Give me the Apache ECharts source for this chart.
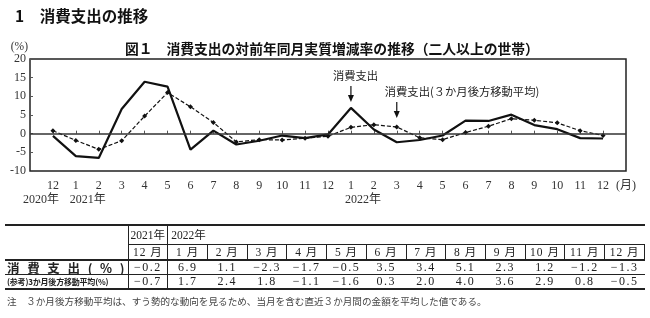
<!DOCTYPE html>
<html><head><meta charset="utf-8">
<script src="https://cdn.jsdelivr.net/npm/echarts@6/dist/echarts.min.js"></script>
<style>
html,body{margin:0;padding:0;background:#fff;}
#c{position:absolute;left:0;top:0;width:650px;height:318px;}
#tbl{position:absolute;left:5px;top:224px;width:640px;border-collapse:collapse;table-layout:fixed;
  font-family:'Liberation Serif','Noto Sans CJK JP',serif;color:#222;}
#tbl td{padding:0;overflow:hidden;white-space:nowrap;line-height:13px;}
#tbl tr.r1 td{height:18px;border-top:2px solid #222;font-size:11.5px;}
#tbl tr.r2 td{height:14px;font-size:11.5px;}
#tbl tr.r3 td{height:13px;border-top:2px solid #222;border-bottom:1.5px solid #222;font-size:12px;}
#tbl tr.r4 td{height:13px;border-bottom:2px solid #222;font-size:12px;}
#tbl td.lab0{border-bottom:2px solid #222;}
#tbl td.y21{border-left:1.5px solid #222;border-right:1.5px solid #222;border-bottom:1.5px solid #222;text-align:center;}
#tbl td.y22{border-bottom:1.5px solid #222;text-align:left;padding-left:3px;}
#tbl td.m{border:1.5px solid #222;border-bottom:2px solid #222;text-align:center;letter-spacing:1px;}
#tbl td.v{text-align:center;letter-spacing:1.5px;}
#tbl td.vl{border-right:1.5px solid #222;}
#tbl td.lab{border-right:1.5px solid #222;padding:0 3px 0 2px;}
.sp{display:flex;justify-content:space-between;font-weight:bold;font-family:'Noto Sans CJK JP',sans-serif;font-size:12.5px;line-height:13px;}
.sm{font-family:'Noto Sans CJK JP',sans-serif;font-size:8px;font-weight:bold;line-height:13px;letter-spacing:-0.2px;}
#note{position:absolute;left:7px;top:294px;font-family:'Noto Sans CJK JP',sans-serif;font-size:9.6px;color:#444;white-space:nowrap;}
</style></head>
<body>
<div id="c"></div>
<table id="tbl"></table>
<div id="note">注　３か月後方移動平均は、すう勢的な動向を見るため、当月を含む直近３か月間の金額を平均した値である。</div>
<script>
// ---- data ----
const months = ['12','1','2','3','4','5','6','7','8','9','10','11','12','1','2','3','4','5','6','7','8','9','10','11','12'];
const yearLabels = ['2020年','2021年','','','','','','','','','','','','2022年','','','','','','','','','','',''];
const spending = [-0.6,-6.0,-6.5,6.6,13.9,12.6,-4.3,0.8,-2.9,-1.9,-0.5,-1.2,-0.2, 6.9,1.1,-2.3,-1.7,-0.5,3.5,3.4,5.1,2.3,1.2,-1.2,-1.3];
const movingAvg = [0.8,-1.8,-4.2,-1.9,4.7,11.0,7.2,3.0,-2.2,-1.6,-1.7,-1.2,-0.7, 1.7,2.4,1.8,-1.1,-1.6,0.3,2.0,4.0,3.6,2.9,0.8,-0.5];
const yTicks = [-10,-5,0,5,10,15,20];
const tableStart = 12; // 2021年12月

// ---- chart ----
const cats = [''].concat(months).concat(['(月)']);
const pad = a => ['-'].concat(a).concat(['-']);
const chart = echarts.init(document.getElementById('c'), null, {renderer:'canvas'});
const serif = "'Liberation Serif','Noto Sans CJK JP',serif";
chart.setOption({
  animation:false,
  title:[
    {text:'1　消費支出の推移', left:10, top:3, textStyle:{fontFamily:"'Noto Sans CJK JP',sans-serif", fontSize:15.5, fontWeight:'bold', color:'#111'}},
    {text:'図１　消費支出の対前年同月実質増減率の推移（二人以上の世帯）', left:120, top:37,
     textStyle:{fontFamily:"'Noto Sans CJK JP',sans-serif", fontSize:13.8, fontWeight:'bold', color:'#111'}}
  ],
  grid:{left:30, right:24, top:59, bottom:147, show:true, borderColor:'#222', borderWidth:1.5, backgroundColor:'transparent'},
  xAxis:{type:'category', data:cats, boundaryGap:false,
    axisLine:{show:false},
    axisTick:{show:true, inside:true, length:3, interval:0, lineStyle:{color:'#555'}},
    axisLabel:{interval:0, margin:9, fontFamily:serif, fontSize:12, color:'#333'},
    splitLine:{show:false}},
  yAxis:{type:'value', min:yTicks[0], max:yTicks[yTicks.length-1], interval:5,
    name:'(%)', nameLocation:'end', nameGap:5, nameTextStyle:{fontFamily:serif, fontSize:11.5, color:'#333', align:'right', padding:[0,2,0,0]},
    axisLine:{show:false},
    axisTick:{show:true, inside:true, length:3, lineStyle:{color:'#555'}},
    axisLabel:{margin:4, fontFamily:serif, fontSize:12, color:'#333'},
    splitLine:{show:false}},
  series:[
    {name:'消費支出', type:'line', data:pad(spending), symbol:'none', lineStyle:{color:'#111', width:2.2},
     markLine:{silent:true, symbol:'none', label:{show:false}, lineStyle:{color:'#333', width:1.5, type:'solid'}, data:[{yAxis:0}]}},
    {name:'消費支出（３か月後方移動平均）', type:'line', data:pad(movingAvg), symbol:'diamond', symbolSize:5,
     itemStyle:{color:'#111'}, lineStyle:{color:'#111', width:1.2, type:[4,2]}}
  ]
});

// annotations & year labels
const px = i => chart.convertToPixel({xAxisIndex:0}, i + 1);
const x1 = px(13);
const x2 = px(15);
const cjk = "'Noto Sans CJK JP',sans-serif";
const txtStyle = {fontFamily:cjk, fontSize:11.3, fill:'#222'};
function arrow(x, y0, y1){
  return [
    {type:'line', shape:{x1:x, y1:y0, x2:x, y2:y1-5}, style:{stroke:'#111', lineWidth:1.2}},
    {type:'polygon', shape:{points:[[x-3,y1-7],[x+3,y1-7],[x,y1]]}, style:{fill:'#111'}}
  ];
}
const yearG = [];
yearLabels.forEach((t,i)=>{
  if(!t) return;
  const first = i === 0;
  yearG.push({type:'text', x: px(i) + (first ? 6 : -6), y:194,
    style:{text:t, fontFamily:serif, fontSize:12, fill:'#333', align: first ? 'right' : 'left'}});
});
chart.setOption({graphic:[
  {type:'text', left:x1-18, top:70, style:Object.assign({text:'消費支出'}, txtStyle)},
  ...arrow(x1, 86, 102),
  {type:'text', left:x2-12, top:86, style:Object.assign({text:'消費支出(３か月後方移動平均)'}, txtStyle)},
  ...arrow(x2, 102, 118),
  ...yearG
]});

// ---- table ----
const tMonths = months.slice(tableStart);
const tSpend = spending.slice(tableStart);
const tMA = movingAvg.slice(tableStart);
const fmt = v => (v < 0 ? '−' : '') + Math.abs(v).toFixed(1);
let h = '<colgroup><col style="width:123px">' + tMonths.map(()=>'<col>').join('') + '</colgroup>';
h += '<tr class="r1"><td class="lab0" rowspan="2"></td><td class="y21">2021年</td><td class="y22" colspan="12">2022年</td></tr>';
h += '<tr class="r2">' + tMonths.map(m=>`<td class="m">${m} 月</td>`).join('') + '</tr>';
const lab1 = '消費支出(%)'.split('').map(c=>`<span>${c}</span>`).join('');
h += `<tr class="r3"><td class="lab"><div class="sp">${lab1}</div></td>` + tSpend.map((v,i)=>`<td class="v${i===0?' vl':''}">${fmt(v)}</td>`).join('') + '</tr>';
h += `<tr class="r4"><td class="lab"><div class="sm">(参考)3か月後方移動平均(%)</div></td>` + tMA.map((v,i)=>`<td class="v${i===0?' vl':''}">${fmt(v)}</td>`).join('') + '</tr>';
document.getElementById('tbl').innerHTML = h;
</script>
</body></html>
